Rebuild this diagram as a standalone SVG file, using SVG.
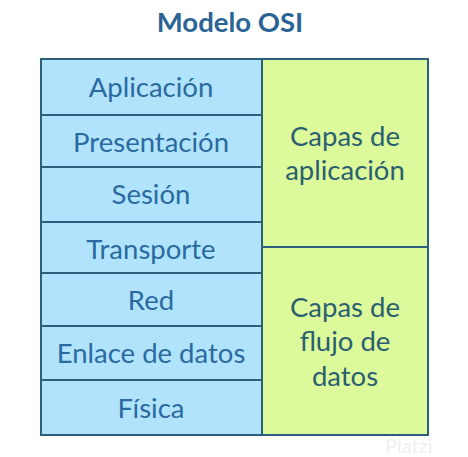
<svg xmlns="http://www.w3.org/2000/svg" width="468" height="457" viewBox="0 0 468 457">
<style>
.l{fill:#b1e4fc;stroke:#2b5f7c;stroke-width:2}
.r{fill:#dcf99b;stroke:#2b5f7c;stroke-width:2}
.t{font-family:Lato,"Open Sans",sans-serif;font-size:27.5px;fill:#2a6aa0;text-anchor:middle;dominant-baseline:central}
.g{font-family:Lato,"Open Sans",sans-serif;font-size:27.5px;fill:#2b5f70;text-anchor:middle;dominant-baseline:central}
</style>
<rect width="468" height="457" fill="#ffffff"/>
<text x="230" y="21" font-family="Lato,sans-serif" font-weight="bold" font-size="27.5" fill="#2a6496" text-anchor="middle" dominant-baseline="central">Modelo OSI</text>
<g id="aplicacion"><rect class="l" x="41" y="59" width="221" height="56"/><text class="t" x="151" y="86">Aplicación</text></g>
<g id="presentacion"><rect class="l" x="41" y="115" width="221" height="52"/><text class="t" x="151" y="141">Presentación</text></g>
<g id="sesion"><rect class="l" x="41" y="167" width="221" height="55"/><text class="t" x="151" y="193">Sesión</text></g>
<g id="transporte"><rect class="l" x="41" y="222" width="221" height="51"/><text class="t" x="151" y="248">Transporte</text></g>
<g id="red"><rect class="l" x="41" y="273" width="221" height="53"/><text class="t" x="151" y="299">Red</text></g>
<g id="enlace"><rect class="l" x="41" y="326" width="221" height="54"/><text class="t" x="151" y="352">Enlace de datos</text></g>
<g id="fisica"><rect class="l" x="41" y="380" width="221" height="55"/><text class="t" x="151" y="407">Física</text></g>
<g id="capas-aplicacion"><rect class="r" x="262" y="59" width="166" height="188"/><text class="g" x="345" y="135">Capas de</text><text class="g" x="345" y="169">aplicación</text></g>
<g id="capas-flujo"><rect class="r" x="262" y="247" width="166" height="188"/><text class="g" x="345" y="306">Capas de</text><text class="g" x="345" y="340">flujo de</text><text class="g" x="345" y="375">datos</text></g>
<g id="connectors"></g>
<text x="385" y="453" font-family="Lato,sans-serif" font-size="20" fill="#f0f0f0">Platzi</text>
</svg>
